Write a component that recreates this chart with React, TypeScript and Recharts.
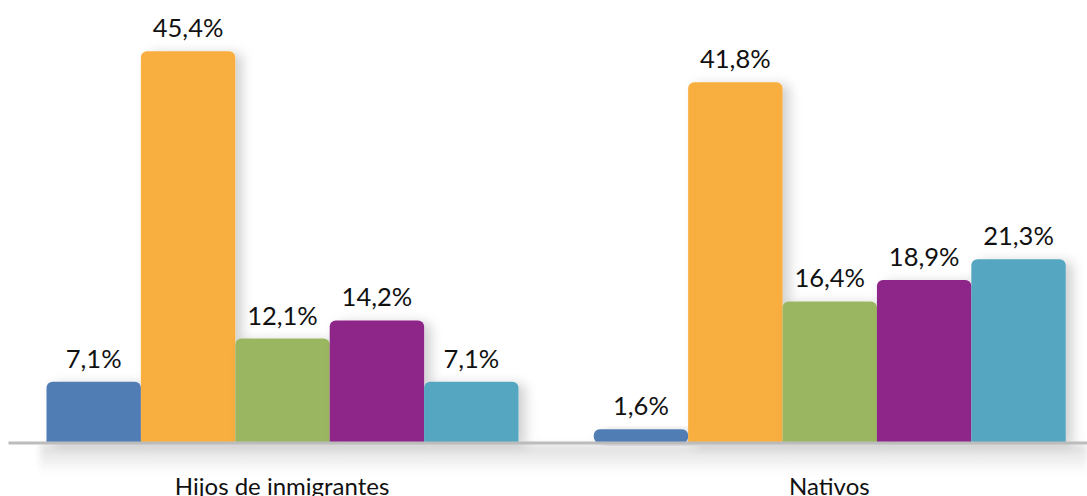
import { BarChart, Bar, XAxis, YAxis, LabelList, Rectangle } from 'recharts'

const categories = ['Hijos de inmigrantes', 'Nativos']
const blueValues = [7.1, 1.6]
const orangeValues = [45.4, 41.8]
const greenValues = [12.1, 16.4]
const purpleValues = [14.2, 18.9]
const tealValues = [7.1, 21.3]

const seriesKeys = ['azul', 'naranja', 'verde', 'morado', 'turquesa']
const seriesColors = ['#517db5', '#f9ae41', '#9ab661', '#8e2589', '#54a7c1']

const data = categories.map((name, i) => ({
  name,
  azul: blueValues[i],
  naranja: orangeValues[i],
  verde: greenValues[i],
  morado: purpleValues[i],
  turquesa: tealValues[i],
}))

const fmt = (v: number) => v.toFixed(1).replace('.', ',') + '%'
const FONT = 'Lato, "Open Sans", sans-serif'

const ShadowBar = (props: any) => {
  const { x, y, width, height, fill } = props
  const r = Math.min(6, height / 2)
  return (
    <Rectangle
      x={x}
      y={y}
      width={width}
      height={height}
      fill={fill}
      radius={[r, r, height < 20 ? r : 0, height < 20 ? r : 0]}
      filter="url(#barShadow)"
    />
  )
}

export default function App() {
  return (
    <div style={{ position: 'absolute', left: 0, top: 0, width: 1087, height: 496, overflow: 'hidden', background: '#fff' }}>
      <div
        style={{
          position: 'absolute',
          left: 40,
          top: 444,
          width: 1047,
          height: 30,
          background: 'linear-gradient(to bottom, rgba(0,0,0,0.13), rgba(0,0,0,0))',
          filter: 'blur(3px)',
        }}
      />
      <div style={{ position: 'absolute', left: 0, top: 0 }}>
        <BarChart
          width={1103}
          height={496}
          data={data}
          margin={{ top: 11.5, right: 0, bottom: 0, left: 8.5 }}
          barGap={0}
          barSize={94.4}
        >
          <defs>
            <filter id="barShadow" x="-20%" y="-20%" width="150%" height="140%">
              <feDropShadow dx="7" dy="2" stdDeviation="6" floodColor="#000" floodOpacity="0.18" />
            </filter>
          </defs>
          <YAxis hide domain={[0, 50]} />
          <XAxis
            dataKey="name"
            height={53}
            axisLine={{ stroke: '#bcbcbc', strokeWidth: 3 }}
            tickLine={false}
            tickMargin={29}
            tick={{ fill: '#111', fontSize: 24, fontFamily: FONT }}
            interval={0}
          />
          {seriesKeys.map((k, i) => (
            <Bar key={k} dataKey={k} fill={seriesColors[i]} shape={ShadowBar} isAnimationActive={false}>
              <LabelList
                dataKey={k}
                position="top"
                offset={14}
                formatter={(v: any) => fmt(Number(v))}
                style={{ fill: '#111', fontSize: 25.5, fontFamily: FONT }}
              />
            </Bar>
          ))}
        </BarChart>
      </div>
    </div>
  )
}
